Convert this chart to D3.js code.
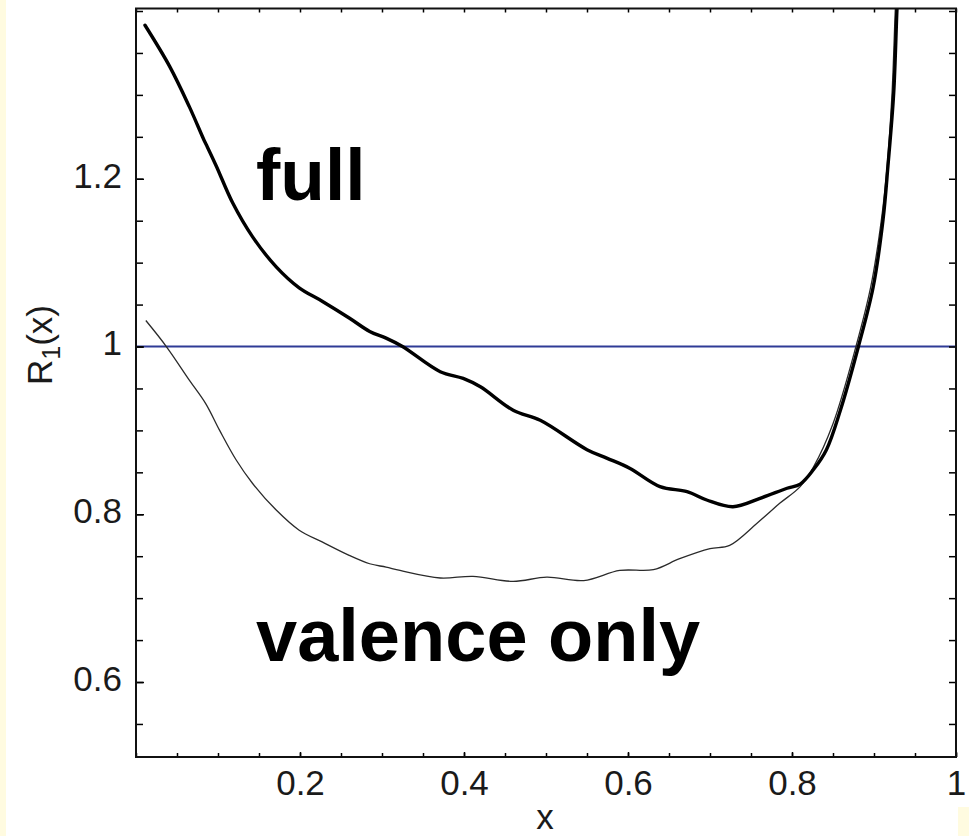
<!DOCTYPE html>
<html>
<head>
<meta charset="utf-8">
<script src="https://cdn.jsdelivr.net/npm/d3@7"></script>
<style>
  body { margin: 0; background: #fff; }
  svg { display: block; }
</style>
</head>
<body>
<svg id="chart" width="969" height="836"></svg>
<script>
// R1(x) curves
var fullX = [0.011, 0.041, 0.065, 0.083, 0.087, 0.098, 0.118, 0.142, 0.171, 0.199, 0.227, 0.26, 0.285, 0.305,
  0.325, 0.371, 0.399, 0.42, 0.46, 0.493, 0.55, 0.574, 0.602, 0.639, 0.672, 0.696, 0.728, 0.761, 0.794,
  0.81, 0.826, 0.842, 0.859, 0.881, 0.899, 0.911, 0.917, 0.924, 0.928, 0.93];
var fullY = [1.383, 1.334, 1.286, 1.246, 1.238, 1.215, 1.171, 1.131, 1.095, 1.07, 1.054, 1.034, 1.018, 1.01,
  1.0, 0.97, 0.962, 0.952, 0.924, 0.912, 0.877, 0.867, 0.855, 0.833, 0.827, 0.817, 0.809, 0.819, 0.831,
  0.836, 0.853, 0.877, 0.924, 1.0, 1.071, 1.151, 1.215, 1.302, 1.402, 1.44];

var valenceX = [0.012, 0.037, 0.065, 0.085, 0.102, 0.122, 0.142, 0.171, 0.199, 0.227, 0.26, 0.285, 0.305,
  0.322, 0.371, 0.411, 0.46, 0.501, 0.546, 0.59, 0.631, 0.663, 0.7, 0.724, 0.757, 0.785, 0.81,
  0.826, 0.85, 0.878, 0.896, 0.909, 0.916, 0.922, 0.926, 0.928];
var valenceY = [1.031, 1.0, 0.96, 0.932, 0.9, 0.865, 0.837, 0.805, 0.781, 0.767, 0.751, 0.741, 0.737,
  0.733, 0.724, 0.726, 0.72, 0.725, 0.721, 0.733, 0.734, 0.747, 0.759, 0.763, 0.789, 0.813, 0.833,
  0.856, 0.908, 1.0, 1.071, 1.151, 1.215, 1.302, 1.402, 1.44];

var xTickValues = [0.2, 0.4, 0.6, 0.8, 1];
var xTickLabels = ['0.2', '0.4', '0.6', '0.8', '1'];
var yTickValues = [0.6, 0.8, 1, 1.2];
var yTickLabels = ['0.6', '0.8', '1', '1.2'];

var svg = d3.select('#chart');
var plotLeft = 136, plotRight = 956, plotTop = 8.5, plotBottom = 757;

// yellow slide background bits
svg.append('rect').attr('x', 0).attr('y', 0).attr('width', 6).attr('height', 836).attr('fill', '#fffbe0');
svg.append('rect').attr('x', 958).attr('y', 807).attr('width', 11).attr('height', 29).attr('fill', '#fffbe0');

var xScale = d3.scaleLinear().domain([0, 1]).range([plotLeft, plotRight]);
var yScale = d3.scaleLinear().domain([0.5106, 1.403]).range([plotBottom, plotTop]);

svg.append('clipPath').attr('id', 'plot')
  .append('rect').attr('x', plotLeft).attr('y', plotTop)
  .attr('width', plotRight - plotLeft).attr('height', plotBottom - plotTop);

// reference line at 1
svg.append('line')
  .attr('x1', plotLeft).attr('x2', plotRight)
  .attr('y1', yScale(1)).attr('y2', yScale(1))
  .attr('stroke', '#2f3b96').attr('stroke-width', 1.8);

var line = d3.line()
  .x(function (d) { return xScale(d[0]); })
  .y(function (d) { return yScale(d[1]); })
  .curve(d3.curveCatmullRom);

svg.append('path')
  .datum(d3.zip(valenceX, valenceY))
  .attr('clip-path', 'url(#plot)')
  .attr('d', line)
  .attr('fill', 'none').attr('stroke', '#2a2a2a').attr('stroke-width', 1.3);

svg.append('path')
  .datum(d3.zip(fullX, fullY))
  .attr('clip-path', 'url(#plot)')
  .attr('d', line)
  .attr('fill', 'none').attr('stroke', '#000').attr('stroke-width', 3.4)
  .attr('stroke-linejoin', 'round').attr('stroke-linecap', 'round');

// axes: minor ticks every 0.05, pointing inward, on all four sides
var font = "'Liberation Sans', Arial, sans-serif";
var xMinor = xScale.ticks(20), yMinor = yScale.ticks(18);

function noText(g) { g.selectAll('text').remove(); g.select('.domain').remove(); }

svg.append('g').attr('transform', 'translate(0,' + plotBottom + ')')
  .call(d3.axisBottom(xScale).tickValues(xMinor).tickSizeInner(-4).tickSizeOuter(0)).call(noText);
svg.append('g').attr('transform', 'translate(0,' + plotTop + ')')
  .call(d3.axisTop(xScale).tickValues(xMinor).tickSizeInner(-4).tickSizeOuter(0)).call(noText);
svg.append('g').attr('transform', 'translate(' + plotLeft + ',0)')
  .call(d3.axisLeft(yScale).tickValues(yMinor).tickSizeInner(-7).tickSizeOuter(0)).call(noText);
svg.append('g').attr('transform', 'translate(' + plotRight + ',0)')
  .call(d3.axisRight(yScale).tickValues(yMinor).tickSizeInner(-7).tickSizeOuter(0)).call(noText);

var xAxis = svg.append('g').attr('transform', 'translate(0,' + plotBottom + ')')
  .call(d3.axisBottom(xScale).tickValues(xTickValues).tickSizeInner(-5).tickSizeOuter(0).tickPadding(13)
    .tickFormat(function (d, i) { return xTickLabels[i]; }));
var yAxis = svg.append('g').attr('transform', 'translate(' + plotLeft + ',0)')
  .call(d3.axisLeft(yScale).tickValues(yTickValues).tickSizeInner(-8).tickSizeOuter(0).tickPadding(14)
    .tickFormat(function (d, i) { return yTickLabels[i]; }));

[xAxis, yAxis].forEach(function (g) {
  g.select('.domain').remove();
  g.selectAll('text').attr('font-family', font).attr('font-size', 35).attr('fill', '#1a1a1a');
});
yAxis.selectAll('text').attr('dy', '0.24em');
svg.selectAll('.tick line').attr('stroke', '#000').attr('stroke-width', 1.5);

// frame
svg.append('rect')
  .attr('x', plotLeft).attr('y', plotTop)
  .attr('width', plotRight - plotLeft).attr('height', plotBottom - plotTop)
  .attr('fill', 'none').attr('stroke', '#111').attr('stroke-width', 2);

// axis titles
svg.append('text')
  .attr('x', 545).attr('y', 829).attr('text-anchor', 'middle')
  .attr('font-family', font).attr('font-size', 35).attr('fill', '#1a1a1a')
  .text('x');
var yTitle = svg.append('text')
  .attr('transform', 'translate(52,345) rotate(-90)').attr('text-anchor', 'middle')
  .attr('font-family', font).attr('font-size', 35).attr('fill', '#1a1a1a');
yTitle.append('tspan').text('R');
yTitle.append('tspan').attr('font-size', 25).attr('dy', 8).text('1');
yTitle.append('tspan').attr('dy', -8).text('(x)');

// curve labels
svg.append('text')
  .attr('x', 256).attr('y', 200)
  .attr('font-family', font).attr('font-weight', 'bold').attr('font-size', 73).attr('fill', '#000')
  .text('full');
svg.append('text')
  .attr('x', 256).attr('y', 661)
  .attr('font-family', font).attr('font-weight', 'bold').attr('font-size', 74).attr('fill', '#000')
  .text('valence only');
</script>
</body>
</html>
